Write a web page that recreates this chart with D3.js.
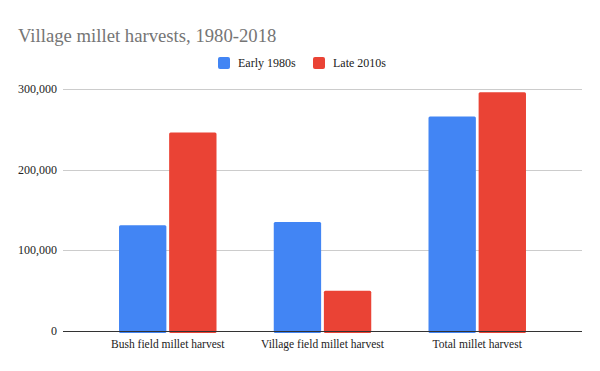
<!doctype html>
<html>
<head>
<meta charset="utf-8">
<script src="https://d3js.org/d3.v7.min.js"></script>
<style>
body {margin: 0; background: #fff;}
svg {display: block; font-family: "Liberation Serif", serif;}
</style>
</head>
<body>
<svg id="chart" width="600" height="371"></svg>
<script>
var categories = ["Bush field millet harvest", "Village field millet harvest", "Total millet harvest"];
var seriesNames = ["Early 1980s", "Late 2010s"];
var early1980s = [131000, 135000, 266000];
var late2010s = [246000, 50000, 296000];
var yTicks = [0, 100000, 200000, 300000];
var colors = ["#4285f4", "#ea4335"];

var svg = d3.select("#chart");
var plotLeft = 63, plotRight = 582, plotTop = 89, plotBottom = 331;

var y = d3.scaleLinear().domain([0, 300000]).range([plotBottom, plotTop]);
var x0 = d3.scaleBand().domain(categories).range([plotLeft, plotRight])
    .paddingInner(0.37).paddingOuter(0.362);
var x1 = d3.scaleBand().domain(seriesNames).range([0, x0.bandwidth()]).paddingInner(0.055);

// gridlines
svg.append("g").selectAll("line")
    .data(yTicks.filter(function(d) { return d > 0; }))
    .enter().append("line")
    .attr("x1", plotLeft).attr("x2", plotRight)
    .attr("y1", function(d) { return Math.round(y(d)) + 0.5; })
    .attr("y2", function(d) { return Math.round(y(d)) + 0.5; })
    .style("stroke", "#cccccc").style("stroke-width", 1);

// y labels
svg.append("g").selectAll("text")
    .data(yTicks)
    .enter().append("text")
    .attr("x", 57)
    .attr("y", function(d) { return y(d) + 4; })
    .attr("text-anchor", "end")
    .style("font-size", "12px")
    .style("fill", "#222")
    .text(function(d) { return d3.format(",")(d); });

// bars
var rows = categories.map(function(c, i) { return [c, early1980s[i], late2010s[i]]; });
var groups = svg.append("g").selectAll("g")
    .data(rows)
    .enter().append("g")
    .attr("transform", function(d) { return "translate(" + x0(d[0]) + ",0)"; });

groups.selectAll("rect")
    .data(function(d) { return seriesNames.map(function(s, j) { return {s: s, v: d[j + 1], j: j}; }); })
    .enter().append("rect")
    .attr("x", function(d) { return x1(d.s); })
    .attr("y", function(d) { return y(d.v); })
    .attr("width", x1.bandwidth())
    .attr("height", function(d) { return plotBottom - y(d.v) + 2; })
    .attr("rx", 1.5)
    .style("fill", function(d) { return colors[d.j]; });

// baseline
svg.append("line")
    .attr("x1", plotLeft).attr("x2", plotRight)
    .attr("y1", plotBottom + 0.5).attr("y2", plotBottom + 0.5)
    .style("stroke", "#333").style("stroke-width", 1.2);

// x labels
svg.append("g").selectAll("text")
    .data(categories)
    .enter().append("text")
    .attr("x", function(d) { return x0(d) + x0.bandwidth() / 2; })
    .attr("y", 348)
    .attr("text-anchor", "middle")
    .style("font-size", "11.5px")
    .style("fill", "#222")
    .text(function(d) { return d; });

// title
svg.append("text")
    .attr("x", 18).attr("y", 42)
    .style("font-size", "18.7px")
    .style("fill", "#757575")
    .text("Village millet harvests, 1980-2018");

// legend
var legendX = [218, 313];
var leg = svg.append("g").selectAll("g")
    .data(seriesNames)
    .enter().append("g")
    .attr("transform", function(d, i) { return "translate(" + legendX[i] + ",57)"; });
leg.append("rect")
    .attr("width", 12).attr("height", 12).attr("rx", 2)
    .style("fill", function(d, i) { return colors[i]; });
leg.append("text")
    .attr("x", 20).attr("y", 10)
    .style("font-size", "12px")
    .style("fill", "#222")
    .text(function(d) { return d; });
</script>
</body>
</html>
